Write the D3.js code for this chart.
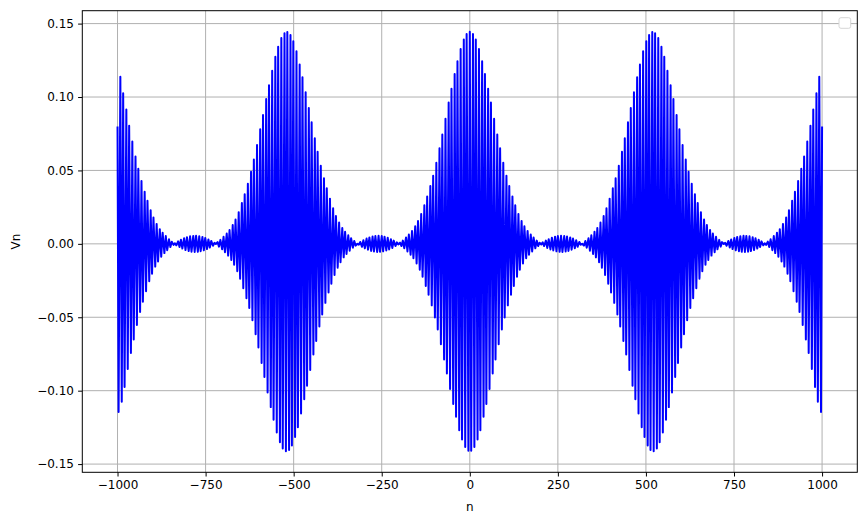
<!DOCTYPE html>
<html>
<head>
<meta charset="utf-8">
<script src="https://cdn.jsdelivr.net/npm/d3@7"></script>
<style>
  body { margin: 0; background: #fff; }
  text { font-family: "DejaVu Sans", sans-serif; }
</style>
</head>
<body>
<div id="chart"></div>
<script>

// turning points of the trace (n, Vn)
const nValues = [
  -1000, -997, -992, -988, -984, -980, -975, -971, -967, -962, -958, -954, -949, -945, -941, -936, -932, -928, -923, -919,
  -915, -910, -906, -902, -898, -893, -889, -885, -880, -876, -872, -867, -863, -859, -854, -850, -846, -841, -837, -833,
  -828, -824, -820, -816, -811, -807, -803, -798, -794, -790, -785, -781, -777, -772, -768, -764, -759, -755, -751, -746,
  -742, -738, -734, -729, -725, -721, -716, -712, -708, -703, -699, -695, -690, -686, -682, -677, -673, -669, -665, -660,
  -656, -652, -647, -643, -639, -634, -630, -626, -621, -617, -613, -608, -604, -600, -595, -591, -587, -583, -578, -574,
  -570, -565, -561, -557, -552, -548, -544, -539, -535, -531, -526, -522, -518, -513, -509, -505, -501, -496, -492, -488,
  -483, -479, -475, -470, -466, -462, -457, -453, -449, -444, -440, -436, -432, -427, -423, -419, -414, -410, -406, -401,
  -397, -393, -388, -384, -380, -375, -371, -367, -362, -358, -354, -350, -345, -341, -337, -332, -328, -324, -319, -315,
  -311, -306, -302, -298, -293, -289, -285, -280, -276, -272, -268, -263, -259, -255, -250, -246, -242, -237, -233, -229,
  -224, -220, -216, -211, -207, -203, -198, -194, -190, -186, -181, -177, -173, -168, -164, -160, -155, -151, -147, -142,
  -138, -134, -129, -125, -121, -117, -112, -108, -104, -99, -95, -91, -86, -82, -78, -73, -69, -65, -60, -56,
  -52, -47, -43, -39, -35, -30, -26, -22, -17, -13, -9, -4,
  0, 4, 9, 13, 17, 22, 26, 30, 35, 39, 43, 47, 52, 56, 60, 65, 69, 73, 78, 82,
  86, 91, 95, 99, 104, 108, 112, 117, 121, 125, 129, 134, 138, 142, 147, 151, 155, 160, 164, 168,
  173, 177, 181, 186, 190, 194, 198, 203, 207, 211, 216, 220, 224, 229, 233, 237, 242, 246, 250, 255,
  259, 263, 268, 272, 276, 280, 285, 289, 293, 298, 302, 306, 311, 315, 319, 324, 328, 332, 337, 341,
  345, 350, 354, 358, 362, 367, 371, 375, 380, 384, 388, 393, 397, 401, 406, 410, 414, 419, 423, 427,
  432, 436, 440, 444, 449, 453, 457, 462, 466, 470, 475, 479, 483, 488, 492, 496, 501, 505, 509, 513,
  518, 522, 526, 531, 535, 539, 544, 548, 552, 557, 561, 565, 570, 574, 578, 583, 587, 591, 595, 600,
  604, 608, 613, 617, 621, 626, 630, 634, 639, 643, 647, 652, 656, 660, 665, 669, 673, 677, 682, 686,
  690, 695, 699, 703, 708, 712, 716, 721, 725, 729, 734, 738, 742, 746, 751, 755, 759, 764, 768, 772,
  777, 781, 785, 790, 794, 798, 803, 807, 811, 816, 820, 824, 828, 833, 837, 841, 846, 850, 854, 859,
  863, 867, 872, 876, 880, 885, 889, 893, 898, 902, 906, 910, 915, 919, 923, 928, 932, 936, 941, 945,
  949, 954, 958, 962, 967, 971, 975, 980, 984, 988, 992, 997, 1000
];

const vnValues = [
  0.0800, -0.1145, 0.1138, -0.1075, 0.1025, -0.0975, 0.0915, -0.0852, 0.0804, -0.0744, 0.0697, -0.0651, 0.0595, -0.0553, 0.0511, -0.0464, 0.0428, -0.0394, 0.0354, -0.0323,
  0.0293, -0.0255, 0.0229, -0.0203, 0.0180, -0.0155, 0.0136, -0.0120, 0.0100, -0.0088, 0.0076, -0.0063, 0.0053, -0.0043, 0.0031, -0.0022, 0.0015, -0.0007, 0.0004, -0.0010,
  0.0017, -0.0022, 0.0028, -0.0032, 0.0038, -0.0042, 0.0045, -0.0049, 0.0051, -0.0053, 0.0054, -0.0055, 0.0055, -0.0054, 0.0052, -0.0050, 0.0047, -0.0044, 0.0040, -0.0035,
  0.0030, -0.0025, 0.0020, -0.0013, 0.0007, -0.0001, 0.0012, -0.0019, 0.0027, -0.0037, 0.0048, -0.0057, 0.0070, -0.0080, 0.0094, -0.0110, 0.0128, -0.0142, 0.0165, -0.0186,
  0.0216, -0.0237, 0.0278, -0.0302, 0.0338, -0.0370, 0.0410, -0.0437, 0.0491, -0.0521, 0.0574, -0.0615, 0.0674, -0.0706, 0.0780, -0.0811, 0.0877, -0.0907, 0.0986, -0.1012,
  0.1080, -0.1112, 0.1179, -0.1198, 0.1274, -0.1285, 0.1343, -0.1352, 0.1402, -0.1394, 0.1435, -0.1413, 0.1442, -0.1404, 0.1423, -0.1374, 0.1380, -0.1316, 0.1311, -0.1249,
  0.1222, -0.1155, 0.1135, -0.1058, 0.1033, -0.0966, 0.0925, -0.0859, 0.0828, -0.0753, 0.0720, -0.0661, 0.0628, -0.0563, 0.0532, -0.0481, 0.0446, -0.0402, 0.0378, -0.0331,
  0.0308, -0.0272, 0.0242, -0.0212, 0.0190, -0.0162, 0.0145, -0.0125, 0.0108, -0.0092, 0.0082, -0.0069, 0.0058, -0.0047, 0.0038, -0.0026, 0.0019, -0.0012, 0.0001, -0.0006,
  0.0013, -0.0020, 0.0025, -0.0030, 0.0036, -0.0040, 0.0044, -0.0048, 0.0050, -0.0052, 0.0053, -0.0055, 0.0055, -0.0054, 0.0053, -0.0051, 0.0049, -0.0045, 0.0042, -0.0038,
  0.0032, -0.0028, 0.0022, -0.0015, 0.0010, -0.0004, 0.0008, -0.0015, 0.0022, -0.0030, 0.0043, -0.0052, 0.0063, -0.0074, 0.0088, -0.0098, 0.0120, -0.0133, 0.0155, -0.0176,
  0.0203, -0.0224, 0.0263, -0.0287, 0.0323, -0.0347, 0.0394, -0.0419, 0.0464, -0.0501, 0.0553, -0.0583, 0.0651, -0.0683, 0.0744, -0.0788, 0.0852, -0.0883, 0.0962, -0.0989,
  0.1056, -0.1091, 0.1157, -0.1177, 0.1243, -0.1269, 0.1327, -0.1332, 0.1391, -0.1384, 0.1430, -0.1409,
  0.1445, -0.1409, 0.1430, -0.1384, 0.1391, -0.1332, 0.1327, -0.1269, 0.1243, -0.1177, 0.1157, -0.1091, 0.1056, -0.0989, 0.0962, -0.0883, 0.0852, -0.0788, 0.0744, -0.0683,
  0.0651, -0.0583, 0.0553, -0.0501, 0.0464, -0.0419, 0.0394, -0.0347, 0.0323, -0.0287, 0.0263, -0.0224, 0.0203, -0.0176, 0.0155, -0.0133, 0.0120, -0.0098, 0.0088, -0.0074,
  0.0063, -0.0052, 0.0043, -0.0030, 0.0022, -0.0015, 0.0008, -0.0004, 0.0010, -0.0015, 0.0022, -0.0028, 0.0032, -0.0038, 0.0042, -0.0045, 0.0049, -0.0051, 0.0053, -0.0054,
  0.0055, -0.0055, 0.0053, -0.0052, 0.0050, -0.0048, 0.0044, -0.0040, 0.0036, -0.0030, 0.0025, -0.0020, 0.0013, -0.0006, 0.0001, -0.0012, 0.0019, -0.0026, 0.0038, -0.0047,
  0.0058, -0.0069, 0.0082, -0.0092, 0.0108, -0.0125, 0.0145, -0.0162, 0.0190, -0.0212, 0.0242, -0.0272, 0.0308, -0.0331, 0.0378, -0.0402, 0.0446, -0.0481, 0.0532, -0.0563,
  0.0628, -0.0661, 0.0720, -0.0753, 0.0828, -0.0859, 0.0925, -0.0966, 0.1033, -0.1058, 0.1135, -0.1155, 0.1222, -0.1249, 0.1311, -0.1316, 0.1380, -0.1374, 0.1423, -0.1404,
  0.1442, -0.1413, 0.1435, -0.1394, 0.1402, -0.1352, 0.1343, -0.1285, 0.1274, -0.1198, 0.1179, -0.1112, 0.1080, -0.1012, 0.0986, -0.0907, 0.0877, -0.0811, 0.0780, -0.0706,
  0.0674, -0.0615, 0.0574, -0.0521, 0.0491, -0.0437, 0.0410, -0.0370, 0.0338, -0.0302, 0.0278, -0.0237, 0.0216, -0.0186, 0.0165, -0.0142, 0.0128, -0.0110, 0.0094, -0.0080,
  0.0070, -0.0057, 0.0048, -0.0037, 0.0027, -0.0019, 0.0012, -0.0001, 0.0007, -0.0013, 0.0020, -0.0025, 0.0030, -0.0035, 0.0040, -0.0044, 0.0047, -0.0050, 0.0052, -0.0054,
  0.0055, -0.0055, 0.0054, -0.0053, 0.0051, -0.0049, 0.0045, -0.0042, 0.0038, -0.0032, 0.0028, -0.0022, 0.0017, -0.0010, 0.0004, -0.0007, 0.0015, -0.0022, 0.0031, -0.0043,
  0.0053, -0.0063, 0.0076, -0.0088, 0.0100, -0.0120, 0.0136, -0.0155, 0.0180, -0.0203, 0.0229, -0.0255, 0.0293, -0.0323, 0.0354, -0.0394, 0.0428, -0.0464, 0.0511, -0.0553,
  0.0595, -0.0651, 0.0697, -0.0744, 0.0804, -0.0852, 0.0915, -0.0975, 0.1025, -0.1075, 0.1138, -0.1145, 0.0800
];

const xTicks = [-1000, -750, -500, -250, 0, 250, 500, 750, 1000];
const yTicks = [-0.15, -0.10, -0.05, 0.00, 0.05, 0.10, 0.15];

const width = 866;
const height = 525;
const margin = {top: 10.7, right: 8.7, bottom: 52.7, left: 82.3};
const plotW = width - margin.left - margin.right;
const plotH = height - margin.top - margin.bottom;

if (nValues.length !== vnValues.length) console.log("length mismatch", nValues.length, vnValues.length);
const points = d3.zip(nValues, vnValues);

// matplotlib style 5% padding on both axes
const [xMin, xMax] = d3.extent(nValues);
const [yMin, yMax] = d3.extent(vnValues);
const xPad = (xMax - xMin) * 0.05;
const yPad = (yMax - yMin) * 0.05;

const xScale = d3.scaleLinear()
	.domain([xMin - xPad, xMax + xPad])
	.range([0, plotW]);
const yScale = d3.scaleLinear()
	.domain([yMin - yPad, yMax + yPad])
	.range([plotH, 0]);

const svg = d3.select("#chart")
	.append("svg")
	.attr("width", width)
	.attr("height", height);

const g = svg.append("g")
	.attr("transform", `translate(${margin.left}, ${margin.top})`);

// grid
g.append("g").selectAll("line").data(xTicks).enter()
	.append("line")
	.attr("x1", d => xScale(d)).attr("x2", d => xScale(d))
	.attr("y1", 0).attr("y2", plotH)
	.attr("stroke", "#b0b0b0").attr("stroke-width", 1);
g.append("g").selectAll("line").data(yTicks).enter()
	.append("line")
	.attr("x1", 0).attr("x2", plotW)
	.attr("y1", d => yScale(d)).attr("y2", d => yScale(d))
	.attr("stroke", "#b0b0b0").attr("stroke-width", 1);

const makeLine = d3.line()
	.x(d => xScale(d[0]))
	.y(d => yScale(d[1]));

g.append("path")
	.datum(points)
	.attr("fill", "none")
	.attr("stroke", "#0000ff")
	.attr("stroke-width", 2)
	.attr("stroke-linejoin", "round")
	.attr("d", makeLine);

// axes
const xAxis = g.append("g")
	.attr("transform", `translate(0, ${plotH})`)
	.call(d3.axisBottom(xScale).tickValues(xTicks).tickSize(4.2).tickPadding(4.2).tickFormat(d3.format("d")));
const yAxis = g.append("g")
	.call(d3.axisLeft(yScale).tickValues(yTicks).tickSize(4.2).tickPadding(4.2).tickFormat(d3.format(".2f")));

[xAxis, yAxis].forEach(a => {
	a.select(".domain").remove();
	a.selectAll("line").attr("stroke", "#000").attr("stroke-width", 1);
	a.selectAll("text").attr("font-size", 12).attr("fill", "#000")
		.attr("font-family", "DejaVu Sans, sans-serif");
});

g.append("rect")
	.attr("width", plotW).attr("height", plotH)
	.attr("fill", "none").attr("stroke", "#000").attr("stroke-width", 1);

// empty legend box
g.append("rect")
	.attr("x", plotW - 18.3).attr("y", 7)
	.attr("width", 11.7).attr("height", 10.6)
	.attr("rx", 2)
	.attr("fill", "#fff").attr("stroke", "#d6d6d6").attr("stroke-width", 1);

svg.append("text")
	.attr("x", margin.left + plotW / 2)
	.attr("y", 511)
	.attr("text-anchor", "middle")
	.attr("font-size", 12)
	.text("n");

svg.append("text")
	.attr("transform", `translate(20, ${margin.top + plotH / 2}) rotate(-90)`)
	.attr("text-anchor", "middle")
	.attr("font-size", 12)
	.text("Vn");

</script>
</body>
</html>
